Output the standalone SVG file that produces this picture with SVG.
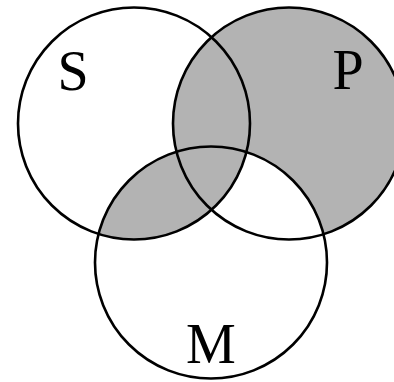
<svg xmlns="http://www.w3.org/2000/svg" width="394" height="382" viewBox="0 0 394 382">
  <style>
    .ring { fill: none; stroke: #000; stroke-width: 2.6; }
    .lbl { font-family: "Liberation Serif", "DejaVu Serif", serif; font-size: 56px; fill: #000; text-anchor: middle; }
    .shade { fill: #b3b3b3; }
    .blank { fill: #fff; }
  </style>
  <defs>
    <clipPath id="clipP"><circle cx="289" cy="123.5" r="116"/></clipPath>
    <clipPath id="clipM"><circle cx="211" cy="262.5" r="116"/></clipPath>
  </defs>
  <rect width="394" height="382" fill="#fff"/>
  <g id="shading">
    <circle class="shade" cx="289" cy="123.5" r="116"/>
    <circle class="blank" cx="211" cy="262.5" r="116" clip-path="url(#clipP)"/>
    <circle class="shade" cx="134" cy="123.5" r="116" clip-path="url(#clipM)"/>
  </g>
  <g id="connectors"></g>
  <g id="S">
    <circle class="ring" cx="134" cy="123.5" r="116"/>
    <text class="lbl" x="73" y="90">S</text>
  </g>
  <g id="P">
    <circle class="ring" cx="289" cy="123.5" r="116"/>
    <text class="lbl" x="348" y="89">P</text>
  </g>
  <g id="M">
    <circle class="ring" cx="211" cy="262.5" r="116"/>
    <text class="lbl" x="211" y="363">M</text>
  </g>
</svg>
